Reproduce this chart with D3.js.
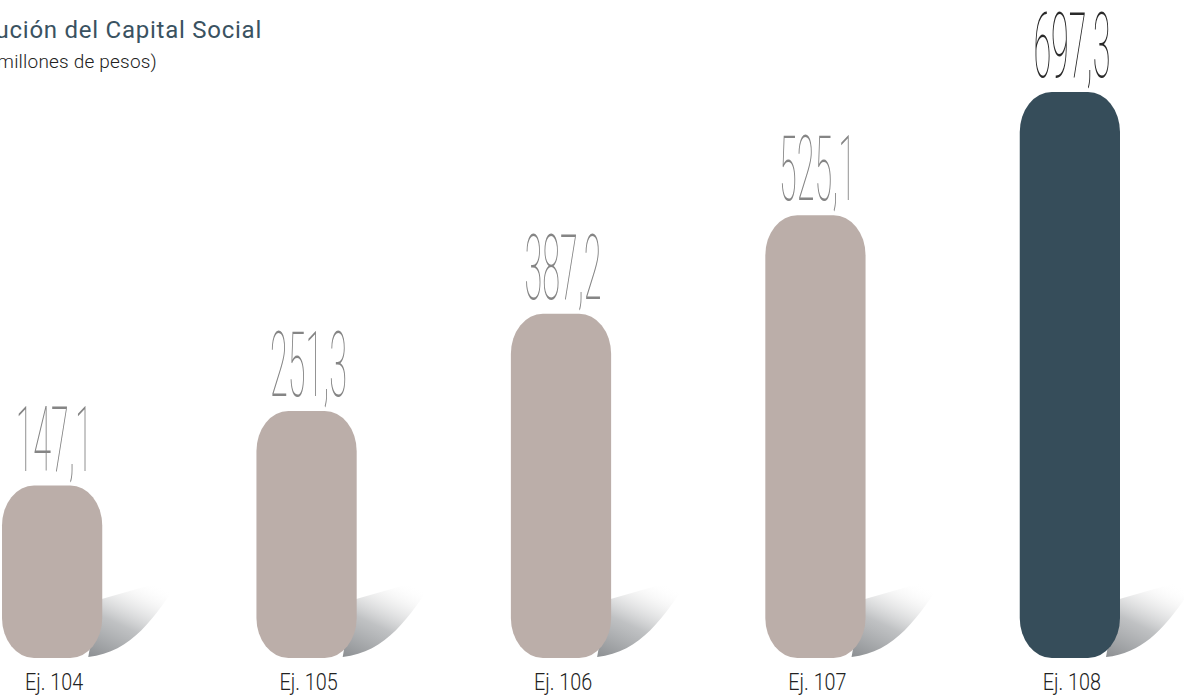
<!DOCTYPE html>
<html>
<head>
<meta charset="utf-8">
<script src="https://cdn.jsdelivr.net/npm/d3@7"></script>
<style>
  html, body { margin: 0; padding: 0; background: #ffffff; overflow: hidden; }
  svg { display: block; }
</style>
</head>
<body>
<svg id="chart" width="1184" height="698"></svg>
<script>
// ---- data ----
const title = "Evolución del Capital Social";
const subtitle = "(en millones de pesos)";
const categories = ["Ej. 104", "Ej. 105", "Ej. 106", "Ej. 107", "Ej. 108"];
const values = [147.1, 251.3, 387.2, 525.1, 697.3];
const valueLabels = ["147,1", "251,3", "387,2", "525,1", "697,3"];
const highlight = [false, false, false, false, true];

const W = 1184, H = 698;
const svg = d3.select("#chart");
const defs = svg.append("defs");

const grad = defs.append("linearGradient")
  .attr("id", "shadowGrad")
  .attr("x1", "0").attr("y1", "1").attr("x2", "0.55").attr("y2", "0");
grad.append("stop").attr("offset", "0").attr("stop-color", "#8c8f92").attr("stop-opacity", 1);
grad.append("stop").attr("offset", "0.45").attr("stop-color", "#b9bbbd").attr("stop-opacity", 0.9);
grad.append("stop").attr("offset", "0.8").attr("stop-color", "#eeeeee").attr("stop-opacity", 0.5);
grad.append("stop").attr("offset", "1").attr("stop-color", "#ffffff").attr("stop-opacity", 0);

const x = d3.scaleBand().domain(categories).range([2, 1120]).paddingInner(0.606).paddingOuter(0);
const baseY = 658;
const y = d3.scaleLinear().domain([-94, 697.3]).range([baseY, 92]);

const data = categories.map((c, i) => ({ c, v: values[i], label: valueLabels[i], hi: highlight[i] }));

// shadows
const g = svg.append("g");
g.selectAll("path.shadow").data(data).enter().append("path")
  .attr("class", "shadow")
  .attr("fill", "url(#shadowGrad)")
  .attr("d", d => {
    const R = x(d.c) + x.bandwidth();
    const B = baseY;
    return `M${R - 4},${B - 58} L${R + 80},${B - 82} C${R + 52},${B - 40} ${R + 30},${B - 6} ${R - 14},${B - 1} Z`;
  });

// bars (rounded pills)
g.selectAll("rect.bar").data(data).enter().append("rect")
  .attr("class", "bar")
  .attr("x", d => x(d.c))
  .attr("y", d => y(d.v))
  .attr("width", x.bandwidth())
  .attr("height", d => baseY - y(d.v))
  .attr("rx", 32).attr("ry", 40)
  .attr("fill", d => d.hi ? "#364d5a" : "#bbaea9");

// value labels (thin, very condensed)
g.selectAll("text.val").data(data).enter().append("text")
  .attr("class", "val")
  .attr("transform", d => `translate(${x(d.c) + x.bandwidth() / 2 + 2},${y(d.v) - 15}) scale(0.36,1)`)
  .attr("text-anchor", "middle")
  .attr("font-family", "Roboto, 'Open Sans', sans-serif")
  .attr("font-weight", 100)
  .attr("font-size", 90)
  .attr("fill", d => d.hi ? "#2a2a2a" : "#858585")
  .text(d => d.label);

// category labels
g.selectAll("text.cat").data(data).enter().append("text")
  .attr("class", "cat")
  .attr("transform", d => `translate(${x(d.c) + x.bandwidth() / 2 + 2},690) scale(0.86,1)`)
  .attr("text-anchor", "middle")
  .attr("font-family", "Roboto, sans-serif")
  .attr("font-weight", 300)
  .attr("font-size", 23)
  .attr("fill", "#222222")
  .text(d => d.c);

// title & subtitle (left part cut off by page edge)
svg.append("text")
  .attr("x", 262).attr("y", 38)
  .attr("text-anchor", "end")
  .attr("font-family", "Roboto, sans-serif")
  .attr("font-weight", 400)
  .attr("font-size", 24)
  .attr("letter-spacing", 0.75)
  .attr("fill", "#3a5261")
  .text(title);

svg.append("text")
  .attr("x", 157).attr("y", 68)
  .attr("text-anchor", "end")
  .attr("font-family", "Roboto, sans-serif")
  .attr("font-weight", 300)
  .attr("font-size", 19)
  .attr("letter-spacing", 0.2)
  .attr("fill", "#222222")
  .text(subtitle);
</script>
</body>
</html>
